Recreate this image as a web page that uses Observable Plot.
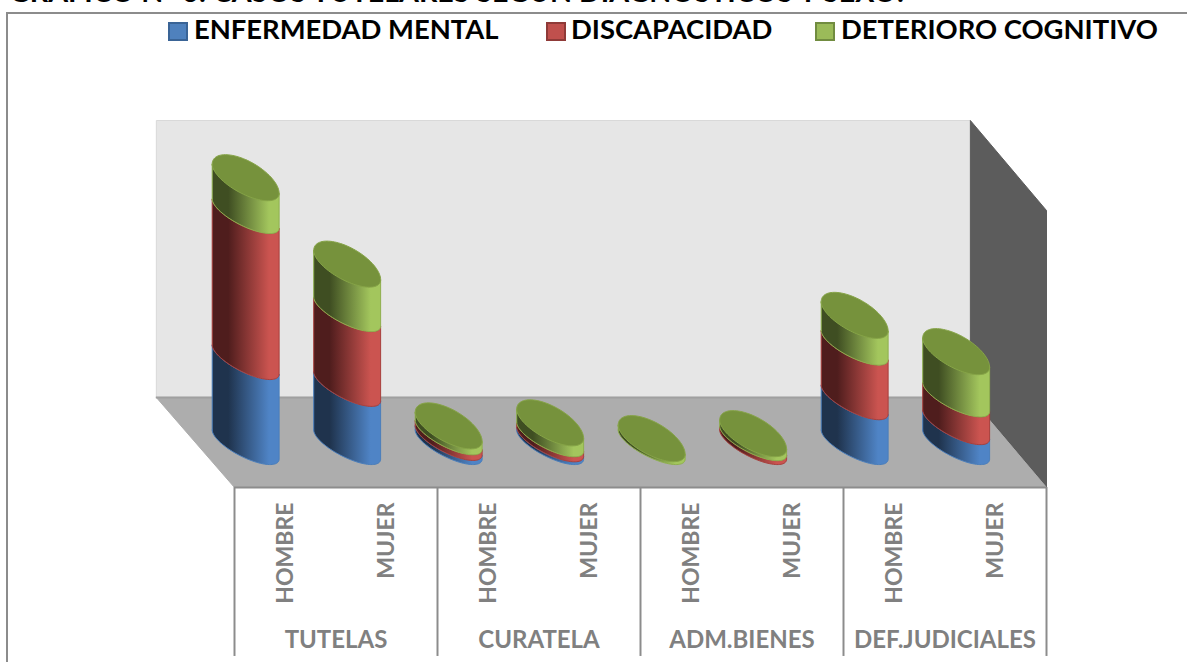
<!DOCTYPE html>
<html lang="es">
<head>
<meta charset="utf-8">
<script src="https://cdn.jsdelivr.net/npm/d3@7"></script>
<script src="https://cdn.jsdelivr.net/npm/@observablehq/plot@0.6"></script>
<style>
html,body{margin:0;padding:0;background:#fff;overflow:hidden;}
body{width:1187px;height:662px;position:relative;font-family:Lato,"Open Sans",sans-serif;}
#head{position:relative;width:1187px;height:50px;overflow:hidden;}
#title{position:absolute;left:9px;top:-23px;font-weight:700;font-size:28.6px;line-height:28px;color:#000;white-space:nowrap;}
#frame{position:absolute;left:6px;top:12px;width:1181px;height:650px;box-sizing:border-box;border-left:2px solid #8c8c8c;border-top:2px solid #8c8c8c;pointer-events:none;}
.key{position:absolute;top:14px;font-weight:700;font-size:27.4px;line-height:30px;color:#000;white-space:nowrap;}
.sw{position:absolute;top:22px;width:16px;height:15px;border:2px solid;}
#chart{position:absolute;left:0;top:50px;}
#chart svg{display:block;}
</style>
</head>
<body>
<div id="head"><div id="title"></div></div>
<div id="frame"></div>
<div id="chart"></div>
<script>
// ---- chart values ----
const titleText = "GRÁFICO N° 6: CASOS TUTELARES SEGÚN DIAGNÓSTICOS Y SEXO:";
const groups = ["TUTELAS", "CURATELA", "ADM.BIENES", "DEF.JUDICIALES"];
const sexes = ["HOMBRE", "MUJER"];
const seriesNames = ["ENFERMEDAD MENTAL", "DISCAPACIDAD", "DETERIORO COGNITIVO"];
const enfermedadMental = [30.7, 21, 1.5, 1, 0, 0, 16.2, 7.2];
const discapacidad = [52.7, 27, 2, 1.8, 0, 1.4, 19.7, 10];
const deterioroCognitivo = [12.6, 16.8, 2.9, 4.7, 1.8, 2.2, 10.4, 16];

// ---- appearance ----
const seriesStyle = [
  {id: "blue", dark: "#1f334d", light: "#4f84c6", stroke: "#4a7ebb"},
  {id: "red", dark: "#4f1d1d", light: "#cb5450", stroke: "#a83f3c"},
  {id: "green", dark: "#3f4e22", light: "#a3c65d", stroke: "#8fb04e"}
];
const legendPos = [{sw: 168, tx: 194}, {sw: 546, tx: 571}, {sw: 815, tx: 841}];

// ---- 3D projection, all in scale units (x = slots, y = value units) ----
const DX = 0.77, DX_R = 0.75, DY = 32.5, WALL = 100;  // floor shear and wall height
const BASE_X = -0.39, BASE_Y = 15.5;                  // bar base centre on the floor
const A = 0.262, B = 0.2, C = 8.66;                   // ellipse shape of a cylinder section
const FLAT_SIDE = 0.72, FLAT_CAP = 0.87;              // front arcs bulge a little less
const THETA_R = -Math.atan2(B, A);
const ex = (i, t) => i + BASE_X + A * Math.cos(t) - B * Math.sin(t);
const ey = (v, t) => BASE_Y + v + C * Math.sin(t);
const STEPS = 48;

function arcPoint(i, v, k, id, flat) {
  const t = THETA_R - Math.PI + Math.PI * k / STEPS;
  const x = ex(i, t);
  const xL = ex(i, THETA_R - Math.PI), xR = ex(i, THETA_R);
  const yL = ey(v, THETA_R - Math.PI), yR = ey(v, THETA_R);
  const chord = yL + (yR - yL) * (x - xL) / (xR - xL);
  return {x, y: chord + flat * (ey(v, t) - chord), id};
}
function side(i, v0, v1, id) {
  const pts = [];
  for (let k = 0; k <= STEPS; ++k) pts.push(arcPoint(i, v0, k, id, FLAT_SIDE));
  for (let k = STEPS; k >= 0; --k) pts.push(arcPoint(i, v1, k, id, FLAT_SIDE));
  pts.push({...pts[0]});
  return pts;
}
function cap(i, v, id) {
  const pts = [];
  for (let k = 0; k <= STEPS; ++k) pts.push(arcPoint(i, v, k, id, FLAT_CAP));
  for (let k = 1; k <= STEPS; ++k) {
    const t = THETA_R + Math.PI * k / STEPS;
    pts.push({x: ex(i, t), y: ey(v, t), id});
  }
  return pts;
}
const poly = (corners, id) => corners.concat([corners[0]]).map(([x, y]) => ({x, y, id}));

const columns = [enfermedadMental, discapacidad, deterioroCognitivo];
const bodies = [[], [], []];
const caps = [];
d3.range(8).forEach(i => {
  let v = 0;
  columns.forEach((col, s) => {
    if (col[i] > 0) bodies[s].push(...side(i, v, v + col[i], `${i}-${s}`));
    v += col[i];
  });
  caps.push(...cap(i, v, `c${i}`));
});

const XL = -0.5, XR = 7.5;
const backWall = poly([[XL - DX, DY], [XR - DX_R, DY], [XR - DX_R, DY + WALL], [XL - DX, DY + WALL]], "b");
const floor = poly([[XL, 0], [XR, 0], [XR - DX_R, DY], [XL - DX, DY]], "f");
const sideWall = poly([[XR - DX_R, DY], [XR, 0], [XR, WALL], [XR - DX_R, DY + WALL]], "s");

function defs() {
  const d = d3.create("svg:defs");
  seriesStyle.forEach(st => {
    const g = d.append("linearGradient").attr("id", "grad-" + st.id)
      .attr("x1", 0).attr("x2", 1).attr("y1", 0).attr("y2", 0);
    [[0, st.dark], [0.24, st.dark], [0.85, st.light], [1, st.light]].forEach(([o, c]) =>
      g.append("stop").attr("offset", o).attr("stop-color", c));
  });
  return d.node();
}

const line = (data, fill, stroke, strokeWidth = 1) =>
  Plot.line(data, {x: "x", y: "y", z: "id", fill, stroke, strokeWidth, curve: "linear"});

const plot = Plot.plot({
  width: 1187,
  height: 612,
  marginLeft: 234,
  marginRight: 141,
  marginTop: 70,
  marginBottom: 175,
  style: {background: "transparent", fontFamily: "Lato, 'Open Sans', sans-serif", overflow: "visible"},
  x: {type: "linear", domain: [XL, XR], axis: null},
  y: {type: "linear", domain: [0, DY + WALL], axis: null},
  marks: [
    defs,
    line(backWall, "#e6e6e6", "#d9d9d9"),
    line(sideWall, "#5c5c5c", "#5c5c5c"),
    line(floor, "#adadad", "#adadad"),
    Plot.ruleY([DY], {x1: XL - DX, x2: XR - DX_R, stroke: "#a0a0a0", strokeWidth: 2}),
    Plot.ruleY([0], {x1: XL, x2: XR, stroke: "#8c8c8c", strokeWidth: 2}),
    Plot.ruleX(d3.range(5).map(i => XL + 2 * i), {y1: 0, y2: -61, stroke: "#8c8c8c", strokeWidth: 2}),
    ...seriesStyle.map((st, s) => line(bodies[s], `url(#grad-${st.id})`, st.stroke)),
    line(caps, "#76923c", "#86a447"),
    Plot.axisX(d3.range(8), {
      anchor: "bottom",
      tickFormat: i => sexes[i % 2],
      tickRotate: -90,
      tickSize: 0,
      tickPadding: 15,
      fontSize: 23,
      fontWeight: 700,
      color: "#808080",
      label: null
    }),
    Plot.text(groups, {
      x: (d, i) => 0.5 + 2 * i,
      y: -55.2,
      text: d => d,
      fontSize: 24,
      fontWeight: 700,
      fill: "#808080"
    })
  ]
});
document.getElementById("chart").append(plot);

document.getElementById("title").textContent = titleText;
const head = document.getElementById("head");
seriesNames.forEach((name, s) => {
  const st = seriesStyle[s];
  const sw = document.createElement("div");
  sw.className = "sw";
  sw.style.left = legendPos[s].sw + "px";
  sw.style.background = {blue: "#4f81bd", red: "#c0504d", green: "#9bbb59"}[st.id];
  sw.style.borderColor = {blue: "#3a6496", red: "#8f3a38", green: "#718c40"}[st.id];
  head.append(sw);
  const t = document.createElement("div");
  t.className = "key";
  t.style.left = legendPos[s].tx + "px";
  t.textContent = name;
  head.append(t);
});
</script>
</body>
</html>
